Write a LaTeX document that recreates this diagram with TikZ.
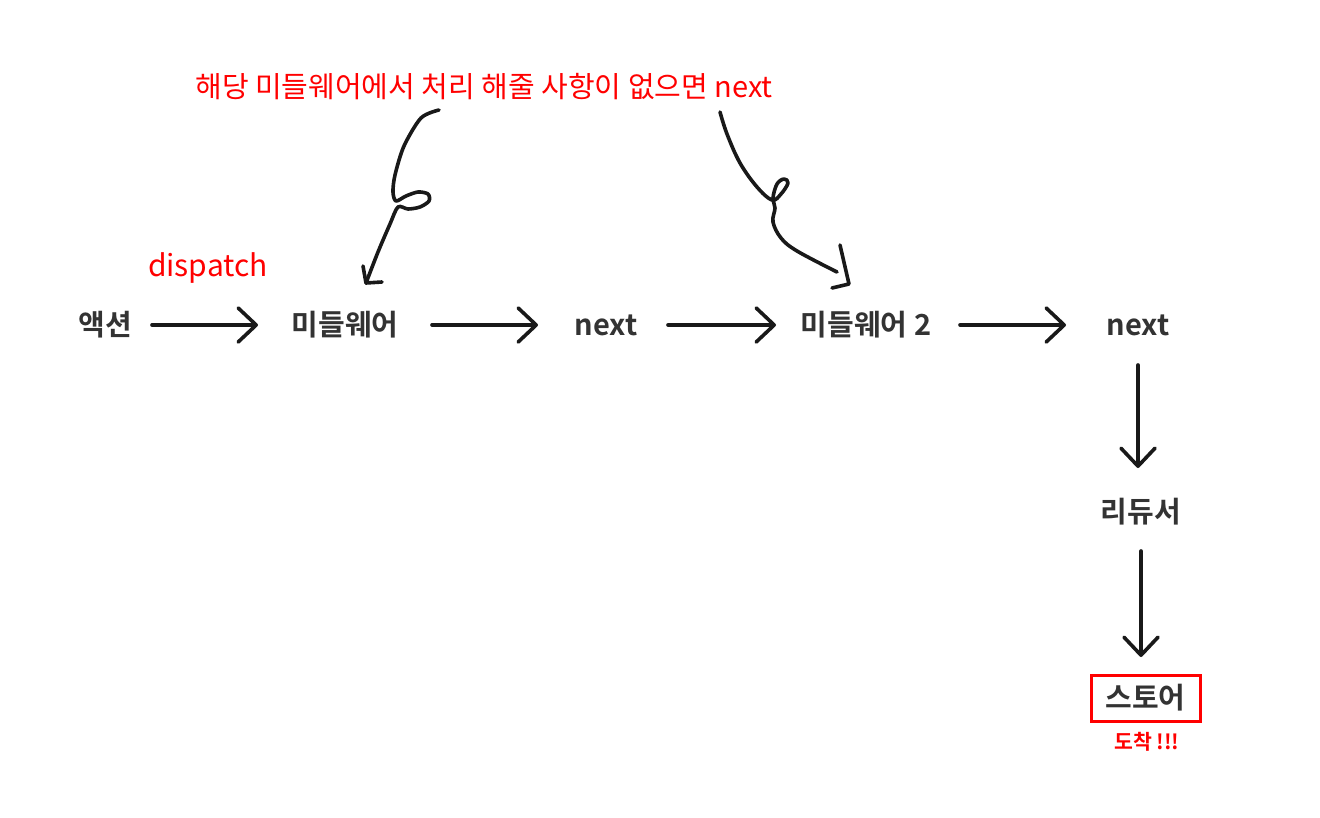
\documentclass[tikz,border=0pt]{standalone}
\usepackage{fontspec}
\setmainfont{Noto Sans CJK KR}
\newfontfamily\krb{Noto Sans CJK KR Bold}
\newfontfamily\krr{Noto Sans CJK KR}
\usetikzlibrary{arrows.meta}
\definecolor{txt}{HTML}{333333}
\definecolor{rd}{HTML}{FF0000}
\tikzset{
  lbl/.style={text=txt, font=\krb\fontsize{29}{33}\selectfont, inner sep=0pt},
  redlbl/.style={text=rd, font=\krr\fontsize{29}{33}\selectfont, inner sep=0pt},
  arr/.style={line width=3.6pt, line cap=round, black!90, -{Straight Barb[length=18pt, width=34pt, line width=3.6pt, round]}},
  curly/.style={line width=3.6pt, line cap=round, line join=round, black!90},
}
\begin{document}
\begin{tikzpicture}[x=1pt, y=-1pt]
\useasboundingbox[fill=white] (0,0) rectangle (1320,817);
% nodes
\node[lbl] (act) at (105,325) {액션};
\node[lbl] (mw1) at (345,325) {미들웨어};
\node[lbl] (nx1) at (606,325) {next};
\node[lbl] (mw2) at (866,325) {미들웨어 2};
\node[lbl] (nx2) at (1138,325) {next};
\node[lbl] (red) at (1141,512) {리듀서};
\node[lbl, draw=rd, line width=3pt, minimum width=109pt, minimum height=46pt] (store) at (1145.5,698) {스토어};
\node[text=rd, font=\krb\fontsize{20.5}{24}\selectfont, inner sep=0pt] (arrive) at (1147,742) {도착 !!!};
\node[redlbl, font=\krr\fontsize{30}{34}\selectfont] (disp) at (208,268) {dispatch};
\node[redlbl] (top) at (484,87) {해당 미들웨어에서 처리 해줄 사항이 없으면 next};
% straight arrows
\draw[arr, shorten <=47pt, shorten >=87pt] (act.center) -- (mw1.center);
\draw[arr, shorten <=87pt, shorten >=68pt] (mw1.center) -- (nx1.center);
\draw[arr, shorten <=62pt, shorten >=90pt] (nx1.center) -- (mw2.center);
\draw[arr, shorten <=94pt, shorten >=72pt] (mw2.center) -- (nx2.center);
\draw[arr, shorten <=40pt, shorten >=44pt] (nx2.center) -- (nx2 |- red);
\draw[arr, shorten <=39pt, shorten >=41pt] (red.center) -- (red |- store);
% curly arrow 1
\coordinate (c1s) at (439,110);
\coordinate (c1e) at (366,283);
\draw[curly] plot[smooth, tension=0.5] coordinates {(439,110) (421,118) (404,146) (395,175) (393,192) (396,201) (406,196) (418,192) (428,194) (429,201) (420,207) (408,209) (398,207) (390,224) (378,252) (366,283)};
\draw[curly] (363,266) -- (c1e) -- (382,282);
% curly arrow 2
\coordinate (c2s) at (720,112);
\coordinate (c2e) at (849,284);
\draw[curly] plot[smooth, tension=0.6] coordinates {(720,112) (727,134) (740,163) (757,187) (772,200) (781,194) (788,183) (784,179) (777,184) (773,198) (775,208) (773,222) (781,238) (797,251) (837,272)};
\draw[curly] (840,245) -- (c2e) -- (832,288);
\end{tikzpicture}
\end{document}
